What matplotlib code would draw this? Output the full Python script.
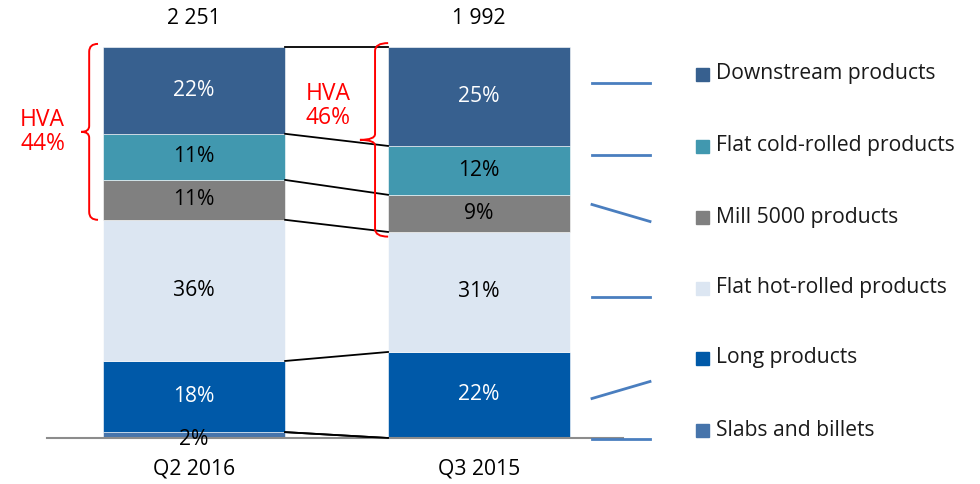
import numpy as np
import matplotlib
matplotlib.use('Agg')
import matplotlib.pyplot as plt
from matplotlib.path import Path
from matplotlib.patches import PathPatch, Rectangle

plt.rcParams['font.family'] = ['Open Sans', 'DejaVu Sans']

# data
periods = ['Q2 2016', 'Q3 2015']
totals = ['2 251', '1 992']
products = ['Slabs and billets', 'Long products', 'Flat hot-rolled products',
            'Mill 5000 products', 'Flat cold-rolled products', 'Downstream products']
shares_q2_2016 = [1.5, 18.2, 36.1, 10.2, 11.8, 22.2]
shares_q3_2015 = [0.0, 22.0, 30.7, 9.5, 12.5, 25.3]
labels_q2_2016 = ['2%', '18%', '36%', '11%', '11%', '22%']
labels_q3_2015 = ['', '22%', '31%', '9%', '12%', '25%']
hva_labels = ['HVA\n44%', 'HVA\n46%']
trend = [0, 1, 0, -1, 0, 0]   # slabs .. downstream

colors = ['#4674ab', '#0059a8', '#dce6f2', '#808080', '#4198af', '#37608f']
text_colors = ['black', 'white', 'black', 'black', 'black', 'white']
red = '#ff0000'
FS = 15.2

fig = plt.figure(figsize=(9.8, 4.84), dpi=100)
W, H = 980, 484
# axes: baseline at y=438 px, top at 47 px, x from 47 to 623 px
ax = fig.add_axes([47 / W, (H - 438) / H, 576 / W, 391 / H])
xpos = np.array([0, 1])
bw = 0.639
ax.set_xlim(-0.516, 1.505)
ax.set_ylim(0, 100)

shares = [shares_q2_2016, shares_q3_2015]
labels = [labels_q2_2016, labels_q3_2015]
bottoms = []
for i in range(2):
    cum = np.concatenate([[0], np.cumsum(shares[i])])
    bottoms.append(cum)
    for j in range(len(products)):
        if shares[i][j] > 0:
            ax.bar(xpos[i], shares[i][j], bottom=cum[j], width=bw, color=colors[j],
                   edgecolor='white', linewidth=0.4, zorder=2)
        if labels[i][j]:
            yc = cum[j] + shares[i][j] / 2
            if shares[i][j] < 4:
                yc = cum[j] - 0.3
            ax.text(xpos[i], yc, labels[i][j], ha='center', va='center', fontsize=FS,
                    color=text_colors[j], zorder=4)
    ax.text(xpos[i], 107.2, totals[i], ha='center', va='center', fontsize=FS, clip_on=False)

# connector lines
for k in range(1, len(products) + 1):
    ax.plot([xpos[0] + bw / 2, xpos[1] - bw / 2], [bottoms[0][k], bottoms[1][k]],
            color='black', lw=1.3, zorder=3, clip_on=False)
ax.plot([xpos[0] + bw / 2, xpos[1] - bw / 2], [bottoms[0][1], bottoms[1][0]],
        color='black', lw=1.3, zorder=3)


def brace(ax, x, y_top, y_bot, hook, tip):
    # curly brace opening right, tip pointing left
    ym = (y_top + y_bot) / 2
    verts = [(x + hook, y_top), (x, y_top), (x, y_top - 2),
             (x, ym + 1.5), (x, ym), (x + tip, ym),
             (x, ym), (x, ym - 1.5),
             (x, y_bot + 2), (x, y_bot), (x + hook, y_bot)]
    codes = [Path.MOVETO, Path.CURVE3, Path.CURVE3,
             Path.LINETO, Path.CURVE3, Path.CURVE3,
             Path.CURVE3, Path.CURVE3,
             Path.LINETO, Path.CURVE3, Path.CURVE3]
    ax.add_patch(PathPatch(Path(verts, codes), fill=False, edgecolor=red, lw=1.4,
                           clip_on=False, zorder=5))


brace(ax, -0.368, 100.8, bottoms[0][3], 0.031, -0.028)
brace(ax, 0.635, 101.0, bottoms[1][3] - 1.2, 0.046, -0.053)
ax.text(-0.532, 78.3, hva_labels[0], ha='center', va='center', fontsize=16.5, color=red,
        linespacing=1.0, clip_on=False)
ax.text(0.47, 84.8, hva_labels[1], ha='center', va='center', fontsize=16.5, color=red,
        linespacing=1.0, clip_on=False)

for s in ['top', 'right', 'left']:
    ax.spines[s].set_visible(False)
ax.spines['bottom'].set_color('#8c8c8c')
ax.spines['bottom'].set_linewidth(1.5)
ax.set_yticks([])
ax.set_xticks(xpos)
ax.set_xticklabels(periods, fontsize=FS)
ax.tick_params(axis='x', length=0, pad=15)

# legend and trend marks in pixel space
ov = fig.add_axes([0, 0, 1, 1])
ov.set_xlim(0, W)
ov.set_ylim(H, 0)
ov.axis('off')
row_y = [430, 358, 288, 217, 146, 74]
for j in range(len(products)):
    ov.add_patch(Rectangle((696, row_y[j] - 6), 13, 13, color=colors[j]))
    ov.text(716, row_y[j], products[j], fontsize=FS, va='center', ha='left', color='#1a1a1a')
    yc = row_y[j] + 9
    if trend[j] != 0:
        yc = row_y[j] + (32 if trend[j] > 0 else -4)
    dy = -17 * trend[j]
    ov.plot([592, 650], [yc - dy / 2, yc + dy / 2], color='#4a7ebf', lw=2)

fig.savefig('out.png', dpi=100)
